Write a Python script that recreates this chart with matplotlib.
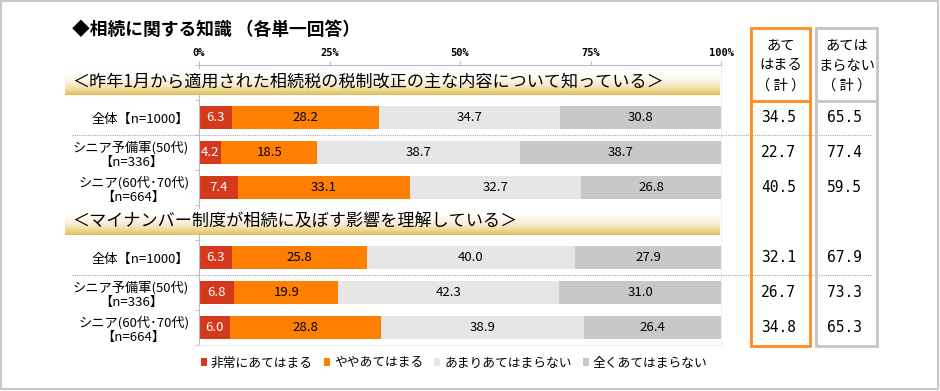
import matplotlib
matplotlib.use('Agg')
import matplotlib.pyplot as plt
import numpy as np
from matplotlib.patches import Rectangle

plt.rcParams['font.family'] = ['Noto Sans CJK JP', 'DejaVu Sans']

# データ
title = '◆相続に関する知識 （各単一回答）'
sections = ['＜昨年1月から適用された相続税の税制改正の主な内容について知っている＞',
            '＜マイナンバー制度が相続に及ぼす影響を理解している＞']
groups = ['全体【n=1000】', 'シニア予備軍(50代)\n【n=336】', 'シニア(60代･70代)\n【n=664】']
categories = ['非常にあてはまる', 'ややあてはまる', 'あまりあてはまらない', '全くあてはまらない']
colors = ['#D4391E', '#FF8000', '#E6E6E6', '#C8C8C8']
text_colors = ['white', 'black', 'black', 'black']

sec1_values = [[6.3, 28.2, 34.7, 30.8],
               [4.2, 18.5, 38.7, 38.7],
               [7.4, 33.1, 32.7, 26.8]]
sec2_values = [[6.3, 25.8, 40.0, 27.9],
               [6.8, 19.9, 42.3, 31.0],
               [6.0, 28.8, 38.9, 26.4]]
sec1_yes = [34.5, 22.7, 40.5]
sec1_no = [65.5, 77.4, 59.5]
sec2_yes = [32.1, 26.7, 34.8]
sec2_no = [67.9, 73.3, 65.3]
col_headers = ['あて\nはまる\n（ 計 ）', 'あては\nまらない\n（ 計 ）']
xticks = [0, 25, 50, 75, 100]
xticklabels = ['0%', '25%', '50%', '75%', '100%']

W, H = 940, 391
fig = plt.figure(figsize=(W / 100, H / 100), dpi=100)

# 棒グラフの軸 (ピクセルで位置決め)
ax_l, ax_r, ax_t, ax_b = 199, 721, 65, 345
ax = fig.add_axes([ax_l / W, 1 - ax_b / H, (ax_r - ax_l) / W, (ax_b - ax_t) / H])

# 行の位置: 0 と 4 は見出し
rows_values = [None] + sec1_values + [None] + sec2_values
rows_labels = [''] + groups + [''] + groups
rows_yes = [None] + sec1_yes + [None] + sec2_yes
rows_no = [None] + sec1_no + [None] + sec2_no
ypos = np.arange(len(rows_values))

handles = []
for k, cat in enumerate(categories):
    ys, widths, lefts = [], [], []
    for y, vals in zip(ypos, rows_values):
        if vals is None:
            continue
        ys.append(y)
        widths.append(vals[k])
        lefts.append(sum(vals[:k]))
    b = ax.barh(ys, widths, left=lefts, height=0.66, color=colors[k], label=cat, zorder=2)
    handles.append(b)
    for y, w, l in zip(ys, widths, lefts):
        ax.text(l + w / 2, y, f'{w:.1f}', ha='center', va='center',
                fontsize=9.5, color=text_colors[k], zorder=3)

ax.set_xlim(0, 100)
ax.set_ylim(len(rows_values) - 0.5, -0.5)
ax.xaxis.tick_top()
ax.set_xticks(xticks)
ax.set_xticklabels(xticklabels, fontsize=7.5, family='DejaVu Sans Mono', fontweight='bold')
ax.tick_params(axis='x', length=3, color='#BBBBBB', pad=2)
ax.set_yticks(ypos)
ax.set_yticklabels(rows_labels, fontsize=9.5, multialignment='center', linespacing=1.15)
ax.tick_params(axis='y', length=0, pad=7)
ax.set_yticks(np.arange(-0.5, len(rows_values)), minor=True)
ax.tick_params(axis='y', which='minor', length=3, color='#BBBBBB')
for s in ['top', 'left']:
    ax.spines[s].set_color('#BBBBBB')
for s in ['right', 'bottom']:
    ax.spines[s].set_color('#EEEEEE')

# 装飾用の全面軸
ov = fig.add_axes([0, 0, 1, 1], zorder=5)
ov.patch.set_alpha(0)

# 見出しの帯 (白から金色へのグラデーション)
grad = np.linspace(0, 1, 64) ** 2.3
c0 = np.array([1.0, 1.0, 1.0])
c1 = np.array([0.89, 0.74, 0.33])
band = c0[None, None, :] * (1 - grad[:, None, None]) + c1[None, None, :] * grad[:, None, None]
row_h = (ax_b - ax_t) / len(rows_values)
for i, sec in zip([0, 4], sections):
    yc = ax_t + (i + 0.5) * row_h
    ov.imshow(band, extent=[65, 720, yc + 13, yc - 13], aspect='auto', zorder=1)
    ov.text(72, yc - 1, sec, ha='left', va='center', fontsize=12.3, zorder=2)

# 点線の区切り
for i in [1, 5]:
    yl = ax_t + (i + 1) * row_h
    ov.plot([72, 872], [yl, yl], color='#AAAAAA', lw=0.8, ls=(0, (1, 1)), zorder=1)

# 右側の合計欄
box_top, box_head, box_bot = 28, 101, 346
for x0, x1, ec, header, vals in [(751, 810, '#FF8C1A', col_headers[0], rows_yes),
                                 (816, 877, '#C4C4C4', col_headers[1], rows_no)]:
    ov.add_patch(Rectangle((x0, box_top), x1 - x0, box_bot - box_top, fill=False,
                           ec=ec, lw=2, zorder=3))
    ov.plot([x0, x1], [box_head, box_head], color=ec, lw=2, zorder=3)
    xc = (x0 + x1) / 2
    ov.text(xc, (box_top + box_head) / 2 + 1, header, ha='center', va='center',
            fontsize=10.3, linespacing=1.6, zorder=4)
    for i, v in enumerate(vals):
        if v is None:
            continue
        yc = ax_t + (i + 0.5) * row_h
        ov.text(xc - 2, yc, f'{v:.1f}', ha='center', va='center', fontsize=10.5,
                family='DejaVu Sans Mono', zorder=4)

# タイトル
ov.text(72, 30, title, ha='left', va='center', fontsize=12.8, fontweight='bold')

# 外枠
ov.add_patch(Rectangle((1, 1), W - 3, H - 3, fill=False, ec='#C8C8C8', lw=1.5))

ov.set_xlim(0, W)
ov.set_ylim(H, 0)
ov.axis('off')

fig.legend(handles=handles, labels=categories, loc='center', ncol=4,
           bbox_to_anchor=(454 / W, 1 - 363 / H), frameon=False, fontsize=9.2,
           handlelength=0.5, handleheight=0.5, handletextpad=0.3, columnspacing=0.85)

fig.savefig('out.png', dpi=100, facecolor='white')
